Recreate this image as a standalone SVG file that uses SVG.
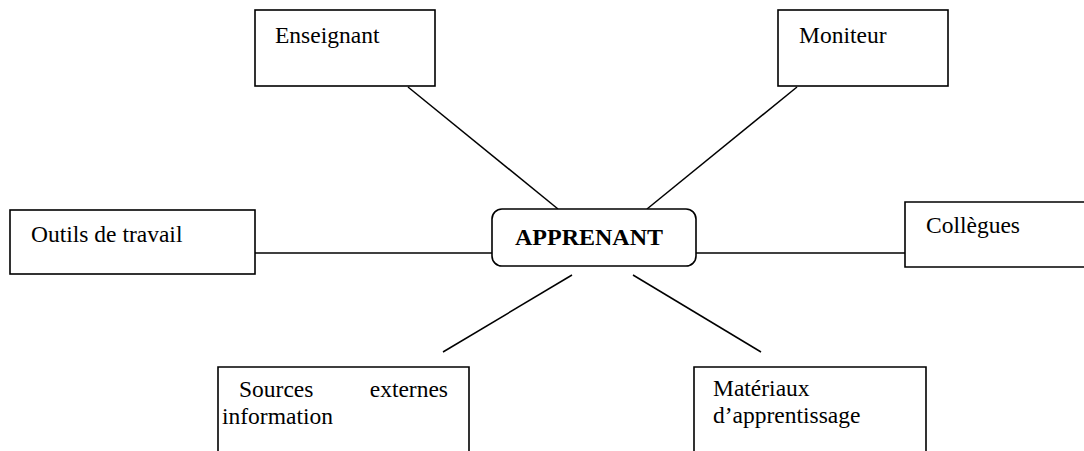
<svg xmlns="http://www.w3.org/2000/svg" width="1084" height="451" viewBox="0 0 1084 451">
<style>
.box{fill:#fff;stroke:#000;stroke-width:1.6}
.ln{stroke:#000;stroke-width:1.5;fill:none}
.t{font-family:"Liberation Serif","Times New Roman",serif;font-size:23.5px;fill:#000}
.b{font-weight:bold;font-size:24px}
</style>
<rect width="1084" height="451" fill="#fff"/>
<g id="connectors">
<line class="ln" x1="408" y1="87" x2="558" y2="209"/>
<line class="ln" x1="797" y1="87" x2="647" y2="209"/>
<line class="ln" x1="255" y1="253" x2="492" y2="253"/>
<line class="ln" x1="696" y1="253" x2="905" y2="253"/>
<line class="ln" x1="572" y1="275" x2="443" y2="352"/>
<line class="ln" x1="633" y1="275" x2="761" y2="352"/>
</g>
<g id="enseignant">
<rect class="box" x="255" y="10" width="180" height="76"/>
<text class="t" x="275" y="43">Enseignant</text>
</g>
<g id="moniteur">
<rect class="box" x="778" y="10" width="170" height="76"/>
<text class="t" x="799" y="43">Moniteur</text>
</g>
<g id="outils">
<rect class="box" x="10" y="210" width="245" height="64"/>
<text class="t" x="31" y="242">Outils de travail</text>
</g>
<g id="apprenant">
<rect class="box" x="492" y="209" width="204" height="57" rx="10" ry="10"/>
<text class="t b" x="515" y="245">APPRENANT</text>
</g>
<g id="collegues">
<path class="box" d="M1090 202 H905 V267 H1090"/>
<text class="t" x="926" y="233">Collègues</text>
</g>
<g id="sources">
<path class="box" d="M218 455 V367 H469 V455"/>
<text class="t" x="239" y="397">Sources</text>
<text class="t" x="448" y="397" text-anchor="end">externes</text>
<text class="t" x="222" y="424">information</text>
</g>
<g id="materiaux">
<path class="box" d="M694 455 V367 H926 V455"/>
<text class="t" x="713" y="396">Matériaux</text>
<text class="t" x="713" y="423">d’apprentissage</text>
</g>
</svg>
